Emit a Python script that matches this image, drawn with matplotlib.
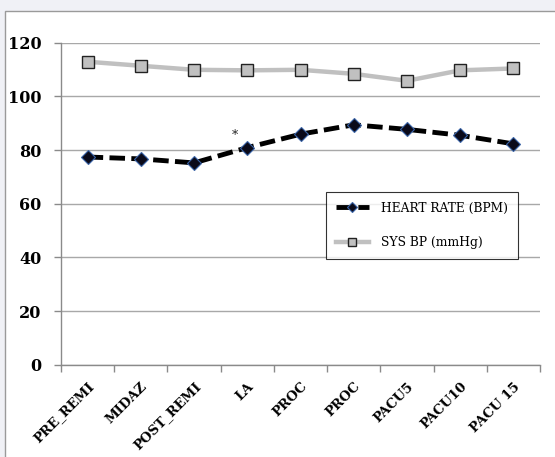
import matplotlib.pyplot as plt
from matplotlib.patches import Rectangle
from matplotlib.transforms import ScaledTranslation

# time points and the two vital-sign series
stages = ["PRE_REMI", "MIDAZ", "POST_REMI", "LA", "PROC", "PROC",
          "PACU5", "PACU10", "PACU 15"]
heart_rate = [77.4, 76.7, 75.2, 80.9, 85.9, 89.4, 87.7, 85.5, 82.3]
sys_bp = [112.9, 111.4, 109.9, 109.7, 109.9, 108.4, 105.8, 109.7, 110.4]
y_ticks = [0, 20, 40, 60, 80, 100, 120]


def main():
    fig = plt.figure(figsize=(5.55, 4.57), dpi=100)
    fig.patch.set_facecolor("#f0f1f6")

    # white panel behind the chart
    fig.patches.append(Rectangle((4.5 / 555, -0.01), 1.0, 1 - 10.5 / 457 + 0.01,
                                 transform=fig.transFigure, facecolor="white",
                                 edgecolor="#9a9a9a", linewidth=1.0, zorder=-10))

    ax = fig.add_axes([61 / 555, 1 - 364.7 / 457, (540 - 61) / 555, (364.7 - 42.7) / 457])
    ax.set_facecolor("none")
    ax.set_zorder(1)

    x = list(range(len(stages)))
    ax.plot(x, sys_bp, color="#c0c0c0", lw=3.2, marker="s", markersize=8,
            markerfacecolor="#c0c0c0", markeredgecolor="#222222", markeredgewidth=1.0,
            label="SYS BP (mmHg)", zorder=3)
    ax.plot(x, heart_rate, color="black", lw=3.5, dashes=(3.2, 1.3), marker="D",
            markersize=7, markerfacecolor="#0a0a1a", markeredgecolor="#3a64a8",
            markeredgewidth=0.8, label="HEART RATE (BPM)", zorder=4)

    # significance mark near LA
    ax.text(3 - 0.24, 85.6, "*", ha="center", va="center", fontsize=9,
            family="DejaVu Serif", color="#222222")

    ax.set_xlim(-0.5, len(stages) - 0.5)
    ax.set_ylim(0, 120)
    ax.set_yticks(y_ticks)
    ax.yaxis.grid(True, color="#a8a8a8", lw=1.0)
    ax.set_axisbelow(True)

    ax.set_xticks(x)
    ax.set_xticklabels(stages, rotation=45, ha="right", va="top",
                       rotation_mode="anchor", family="DejaVu Serif",
                       fontweight="bold", fontsize=9.5)
    shift = ScaledTranslation(2 / 100, 0, fig.dpi_scale_trans)
    for lab in ax.get_xticklabels():
        lab.set_transform(lab.get_transform() + shift)
    ax.set_xticks([i - 0.5 for i in range(len(stages) + 1)], minor=True)
    ax.tick_params(axis="x", which="major", length=0, pad=11)
    ax.tick_params(axis="x", which="minor", length=5, color="#8a8a8a", width=1)
    ax.tick_params(axis="y", length=5, color="#8a8a8a", width=1, pad=9)
    for lab in ax.get_yticklabels():
        lab.set_family("DejaVu Serif")
        lab.set_fontweight("bold")
        lab.set_fontsize(11.5)

    for side in ["top", "right"]:
        ax.spines[side].set_visible(False)
    for side in ["left", "bottom"]:
        ax.spines[side].set_color("#8a8a8a")
        ax.spines[side].set_linewidth(1.0)

    handles, labels = ax.get_legend_handles_labels()
    leg = ax.legend(handles[::-1], labels[::-1], loc="upper left",
                    bbox_to_anchor=((326 - 61) / 479, (364.7 - 191.7) / 322),
                    frameon=True, fancybox=False, edgecolor="black",
                    prop={"family": "DejaVu Serif", "size": 8.8},
                    handlelength=2.7, labelspacing=1.75, borderpad=0.8,
                    handletextpad=1.0, borderaxespad=0, markerscale=0.75)
    leg.get_frame().set_linewidth(0.8)

    fig.savefig("out.png", dpi=100, facecolor=fig.get_facecolor())
    plt.close(fig)


if __name__ == "__main__":
    main()
